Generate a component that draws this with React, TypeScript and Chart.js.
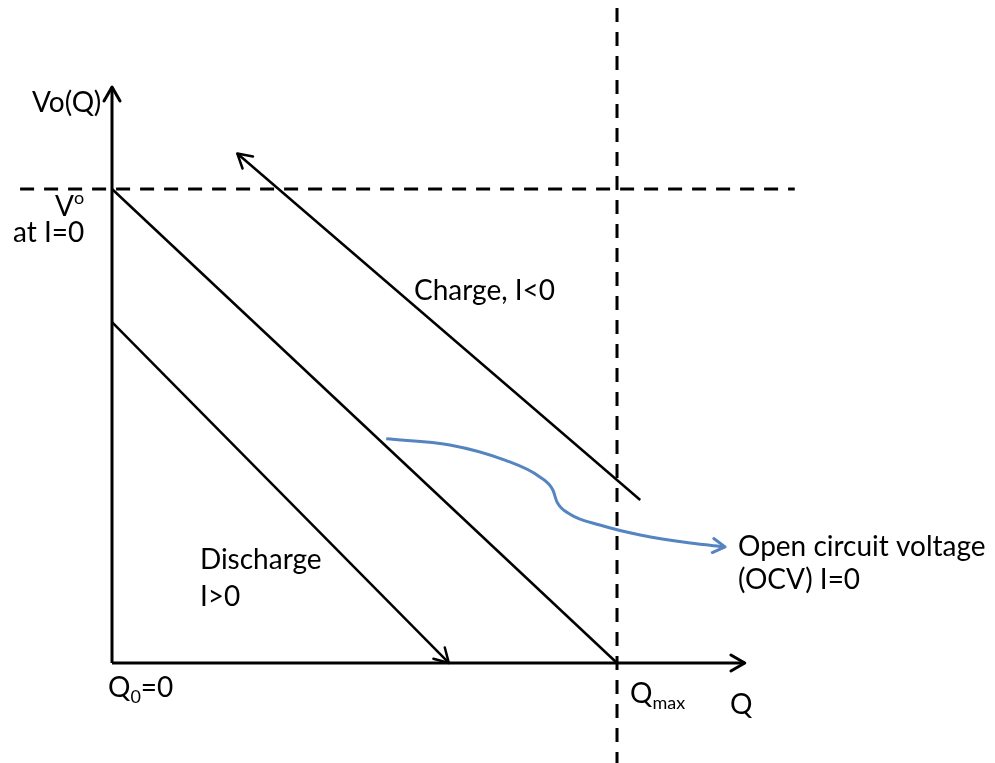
import React, { useEffect, useRef } from "react";
import { Chart, registerables } from "chart.js";

Chart.register(...registerables);

// Diagram units: Q normalised so Q0 = 0 and Qmax = 1; V normalised so V° = 1.
const ocvQ = [0, 1];
const ocvV = [1, 0];
const dischargeQ = [0, 0.667];
const dischargeV = [0.719, 0];
const chargeQ = [1.046, 0.248];
const chargeV = [0.344, 1.075];
const curveQ = [0.543, 0.669, 0.778, 0.848, 0.873, 0.881, 0.907, 0.966, 1.046, 1.145, 1.214];
const curveV = [0.473, 0.46, 0.428, 0.392, 0.365, 0.34, 0.314, 0.291, 0.27, 0.253, 0.245];
const axisYQ = [0, 0];
const axisYV = [0, 1.215];
const axisXQ = [0, 1.253];
const axisXV = [0, 0];
const refV0Q = [-0.182, 1.352];
const refV0V = [1, 1];
const refQmaxQ = [1, 1];
const refQmaxV = [1.382, -0.22];

const xMin = -0.2218;
const xMax = 1.7485;
const yMin = -0.211;
const yMax = 1.3987;

type Seg = { t: string; sub?: boolean; sup?: boolean };
type Label = { q: number; v: number; segs: Seg[] };

const labels: Label[] = [
  { q: -0.1584, v: 1.1814, segs: [{ t: "Vo(Q)" }] },
  { q: -0.1129, v: 0.962, segs: [{ t: "V" }, { t: "o", sup: true }] },
  { q: -0.196, v: 0.907, segs: [{ t: "at I=0" }] },
  { q: 0.598, v: 0.785, segs: [{ t: "Charge, I<0" }] },
  { q: 0.174, v: 0.217, segs: [{ t: "Discharge" }] },
  { q: 0.174, v: 0.139, segs: [{ t: "I>0" }] },
  { q: 1.2396, v: 0.2447, segs: [{ t: "Open circuit voltage" }] },
  { q: 1.2396, v: 0.175, segs: [{ t: "(OCV) I=0" }] },
  { q: -0.0079, v: -0.0527, segs: [{ t: "Q" }, { t: "0", sub: true }, { t: "=0" }] },
  { q: 1.0257, v: -0.0654, segs: [{ t: "Q" }, { t: "max", sub: true }] },
  { q: 1.2238, v: -0.0886, segs: [{ t: "Q" }] },
];

const FONT = "Lato, 'Open Sans', sans-serif";
const FS = 28;

const pts = (qs: number[], vs: number[]) => qs.map((q, i) => ({ x: q, y: vs[i] }));

const arrowPlugin = {
  id: "arrowHeads",
  afterDatasetsDraw(chart: any) {
    const ctx = chart.ctx;
    chart.data.datasets.forEach((ds: any, i: number) => {
      if (!ds.arrow) return;
      const meta = chart.getDatasetMeta(i);
      const n = meta.data.length;
      if (n < 2) return;
      const p1 = meta.data[n - 1];
      const p0 = meta.data[n - 2];
      const ang = Math.atan2(p1.y - p0.y, p1.x - p0.x);
      const len = ds.arrowLen || 15;
      const spread = Math.PI / 6;
      ctx.save();
      ctx.strokeStyle = ds.borderColor;
      ctx.lineWidth = ds.borderWidth;
      ctx.lineCap = "round";
      ctx.lineJoin = "round";
      ctx.beginPath();
      ctx.moveTo(p1.x - len * Math.cos(ang - spread), p1.y - len * Math.sin(ang - spread));
      ctx.lineTo(p1.x, p1.y);
      ctx.lineTo(p1.x - len * Math.cos(ang + spread), p1.y - len * Math.sin(ang + spread));
      ctx.stroke();
      ctx.restore();
    });
  },
};

const textPlugin = {
  id: "diagramText",
  afterDraw(chart: any) {
    const ctx = chart.ctx;
    const xs = chart.scales.x;
    const ys = chart.scales.y;
    ctx.save();
    ctx.fillStyle = "#000";
    ctx.textBaseline = "middle";
    ctx.textAlign = "left";
    labels.forEach((lb) => {
      let x = xs.getPixelForValue(lb.q);
      const y = ys.getPixelForValue(lb.v);
      lb.segs.forEach((s) => {
        const small = s.sub || s.sup;
        ctx.font = `${small ? Math.round(FS * 0.66) : FS}px ${FONT}`;
        const dy = s.sub ? FS * 0.34 : s.sup ? -FS * 0.3 : 0;
        ctx.fillText(s.t, x, y + dy);
        x += ctx.measureText(s.t).width;
      });
    });
    ctx.restore();
  },
};

export default function App() {
  const ref = useRef<HTMLCanvasElement | null>(null);

  useEffect(() => {
    if (!ref.current) return;
    const base = {
      showLine: true,
      pointRadius: 0,
      pointHoverRadius: 0,
      fill: false,
      borderColor: "#000",
      borderWidth: 2.5,
      tension: 0,
    };
    const chart = new Chart(ref.current, {
      type: "scatter",
      data: {
        datasets: [
          { ...base, label: "V° reference", data: pts(refV0Q, refV0V), borderDash: [14, 10], borderWidth: 3 },
          { ...base, label: "Qmax reference", data: pts(refQmaxQ, refQmaxV), borderDash: [14, 10], borderWidth: 3 },
          { ...base, label: "Q axis", data: pts(axisXQ, axisXV), borderWidth: 3, arrow: true, arrowLen: 16 } as any,
          { ...base, label: "Vo axis", data: pts(axisYQ, axisYV), borderWidth: 3, arrow: true, arrowLen: 16 } as any,
          { ...base, label: "OCV", data: pts(ocvQ, ocvV) },
          { ...base, label: "Discharge", data: pts(dischargeQ, dischargeV), arrow: true, arrowLen: 16 } as any,
          { ...base, label: "Charge", data: pts(chargeQ, chargeV), arrow: true, arrowLen: 16 } as any,
          {
            ...base,
            label: "OCV pointer",
            data: pts(curveQ, curveV),
            borderColor: "#5585c0",
            borderWidth: 3,
            cubicInterpolationMode: "monotone",
            arrow: true,
            arrowLen: 14,
          } as any,
        ],
      },
      options: {
        animation: false,
        responsive: false,
        layout: { padding: 0 },
        plugins: { legend: { display: false }, tooltip: { enabled: false }, title: { display: false } },
        events: [],
        scales: {
          x: { type: "linear", min: xMin, max: xMax, display: false },
          y: { type: "linear", min: yMin, max: yMax, display: false },
        },
      },
      plugins: [arrowPlugin, textPlugin],
    });
    return () => chart.destroy();
  }, []);

  return (
    <div style={{ position: "fixed", left: 0, top: 0, width: 995, height: 763, background: "#fff" }}>
      <canvas ref={ref} width={995} height={763} style={{ display: "block" }} />
    </div>
  );
}
